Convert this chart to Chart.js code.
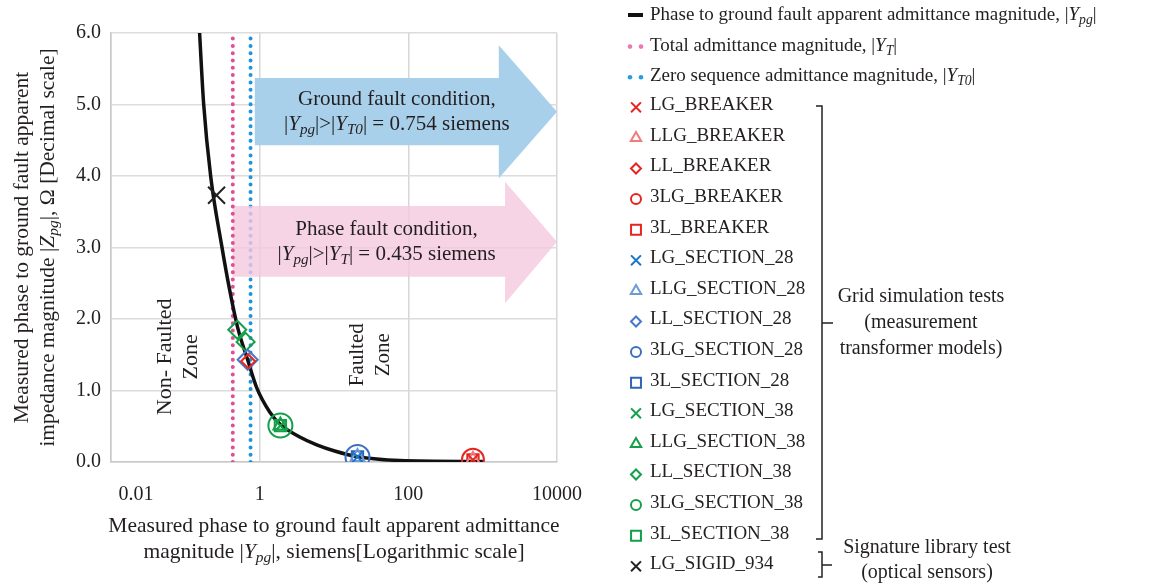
<!DOCTYPE html>
<html>
<head>
<meta charset="utf-8">
<script src="https://cdn.jsdelivr.net/npm/chart.js@4.4.1/dist/chart.umd.min.js"></script>
<style>
  html, body { margin: 0; padding: 0; background: #fff; }
  #wrap { width: 1171px; height: 588px; }
</style>
</head>
<body>
<div id="wrap"><canvas id="chart"></canvas></div>
<script>
// axis ticks
const xTicks = [0.01, 1, 100, 10000];
const yTicks = [0, 1, 2, 3, 4, 5, 6];

// |Ypg| (siemens) vs |Zpg| (ohm)
const curveY = [0.1555, 0.176, 0.219, 0.308, 0.394, 0.506, 0.689, 0.911, 1.364, 1.918, 3.46, 5.86, 10.2, 20.2, 76.8, 1008];
const curveZ = [6.0, 5.02, 4.0, 3.03, 2.41, 1.88, 1.43, 1.04, 0.70, 0.52, 0.35, 0.24, 0.154, 0.077, 0.021, 0.007];

// thresholds
const totalYT = 0.435;
const zeroYT0 = 0.754;

// test points
const testNames = ['LG_BREAKER', 'LLG_BREAKER', 'LL_BREAKER', '3LG_BREAKER', '3L_BREAKER',
  'LG_SECTION_28', 'LLG_SECTION_28', 'LL_SECTION_28', '3LG_SECTION_28', '3L_SECTION_28',
  'LG_SECTION_38', 'LLG_SECTION_38', 'LL_SECTION_38', '3LG_SECTION_38', '3L_SECTION_38',
  'LG_SIGID_934'];
const testAdmittance = [[740], [740], [0.70], [740], [740],
  [20.7], [20.7], [0.69], [20.7], [20.7],
  [1.9], [1.9], [0.50, 0.647], [1.9], [1.9],
  [0.263]];
const testImpedance = [[0.03], [0.03], [1.41], [0.03], [0.03],
  [0.07], [0.07], [1.43], [0.07], [0.07],
  [0.51], [0.51], [1.85, 1.68], [0.51], [0.51],
  [3.73]];

const testColors = ['#e52521', '#f07c7c', '#e52521', '#e52521', '#e52521',
  '#1b75c9', '#6d9bd6', '#4a78c8', '#3a70c0', '#2f65b5',
  '#13a048', '#13a048', '#13a048', '#13a048', '#13a048', '#222222'];
const chartRadius = [7, 8, 7, 11, 8, 7, 8, 10, 12, 8, 7, 8, 9, 12, 8, 12];
const legendRadius = { crossRot: 7, triangle: 6, rectRot: 5, circle: 5, rect: 7 };

const FONT = "'Liberation Serif', 'Times New Roman', serif";
const INK = '#231f20';

function styleFor(name) {
  if (name.startsWith('LLG')) return 'triangle';
  if (name.startsWith('LL')) return 'rectRot';
  if (name.startsWith('LG')) return 'crossRot';
  if (name.startsWith('3LG')) return 'circle';
  return 'rect';
}

// rich text: [text, ''|'i'|'s'] (s = italic subscript)
function segFont(st, size) {
  const s = st === 's' ? size * 0.72 : size;
  return (st ? 'italic ' : '') + s + 'px ' + FONT;
}
function drawRich(ctx, segs, x, y, size, align) {
  let w = 0;
  for (const [t, st] of segs) { ctx.font = segFont(st, size); w += ctx.measureText(t).width; }
  let cx = align === 'left' ? x : x - w / 2;
  ctx.textAlign = 'left';
  ctx.textBaseline = 'middle';
  for (const [t, st] of segs) {
    ctx.font = segFont(st, size);
    ctx.fillText(t, cx, st === 's' ? y + size * 0.28 : y);
    cx += ctx.measureText(t).width;
  }
}

const datasets = [
  {
    label: 'Phase to ground fault apparent admittance magnitude, |Ypg|',
    rich: [['Phase to ground fault apparent admittance magnitude, |', ''], ['Y', 'i'], ['pg', 's'], ['|', '']],
    kind: 'line',
    data: curveY.map((x, i) => ({ x: x, y: curveZ[i] })),
    showLine: true, borderColor: '#111', borderWidth: 3.5, pointRadius: 0,
    cubicInterpolationMode: 'monotone', order: 1
  },
  {
    label: 'Total admittance magnitude, |YT|',
    rich: [['Total admittance magnitude, |', ''], ['Y', 'i'], ['T', 's'], ['|', '']],
    kind: 'dots', dotColor: '#e879b3',
    data: [{ x: totalYT, y: yTicks[0] }, { x: totalYT, y: yTicks[yTicks.length - 1] }],
    showLine: true, borderColor: '#de4f98', borderWidth: 4, borderDash: [0, 7.3],
    borderCapStyle: 'round', pointRadius: 0, order: 2
  },
  {
    label: 'Zero sequence admittance magnitude, |YT0|',
    rich: [['Zero sequence admittance magnitude, |', ''], ['Y', 'i'], ['T0', 's'], ['|', '']],
    kind: 'dots', dotColor: '#2a9be0',
    data: [{ x: zeroYT0, y: yTicks[0] }, { x: zeroYT0, y: yTicks[yTicks.length - 1] }],
    showLine: true, borderColor: '#1c95dc', borderWidth: 4, borderDash: [0, 7.3],
    borderCapStyle: 'round', pointRadius: 0, order: 3
  }
].concat(testNames.map((name, i) => ({
  label: name,
  kind: 'point',
  data: testAdmittance[i].map((x, j) => ({ x: x, y: testImpedance[i][j] })),
  pointStyle: styleFor(name),
  pointRadius: chartRadius[i],
  pointBorderColor: testColors[i],
  pointBackgroundColor: 'rgba(0,0,0,0)',
  pointBorderWidth: 2,
  order: 0
})));

// annotation arrows, in data units
const groundArrow = { from: 0.86, neck: 1650, tip: 10000, body: [4.43, 5.37], head: [3.97, 5.83], mid: 4.9,
  fill: 'rgb(168,208,235)', textX: 70,
  lines: [[['Ground fault condition,', '']],
          [['|', ''], ['Y', 'i'], ['pg', 's'], ['|>|', ''], ['Y', 'i'], ['T0', 's'], ['| = 0.754 siemens', '']]] };
const phaseArrow = { from: totalYT, neck: 2000, tip: 10000, body: [2.59, 3.58], head: [2.22, 3.92], mid: 3.08,
  fill: 'rgba(245,200,224,0.8)', textX: 51,
  lines: [[['Phase fault condition,', '']],
          [['|', ''], ['Y', 'i'], ['pg', 's'], ['|>|', ''], ['Y', 'i'], ['T', 's'], ['| = 0.435 siemens', '']]] };

function drawArrow(chart, a) {
  const xs = chart.scales.x, ys = chart.scales.y, ctx = chart.ctx;
  const x0 = xs.getPixelForValue(a.from), x1 = xs.getPixelForValue(a.neck), x2 = xs.getPixelForValue(a.tip);
  const b0 = ys.getPixelForValue(a.body[1]), b1 = ys.getPixelForValue(a.body[0]);
  const h0 = ys.getPixelForValue(a.head[1]), h1 = ys.getPixelForValue(a.head[0]);
  const m = ys.getPixelForValue(a.mid);
  ctx.save();
  ctx.fillStyle = a.fill;
  ctx.beginPath();
  ctx.moveTo(x0, b0); ctx.lineTo(x1, b0); ctx.lineTo(x1, h0); ctx.lineTo(x2, m);
  ctx.lineTo(x1, h1); ctx.lineTo(x1, b1); ctx.lineTo(x0, b1);
  ctx.closePath();
  ctx.fill();
  ctx.fillStyle = INK;
  const tx = xs.getPixelForValue(a.textX);
  drawRich(ctx, a.lines[0], tx, m - 12.5, 21, 'center');
  drawRich(ctx, a.lines[1], tx, m + 12.5, 21, 'center');
  ctx.restore();
}

function drawVertical(ctx, lines, x, y, size) {
  ctx.save();
  ctx.translate(x, y);
  ctx.rotate(-Math.PI / 2);
  ctx.fillStyle = INK;
  lines.forEach((segs, i) => drawRich(ctx, segs, 0, (i - (lines.length - 1) / 2) * size * 1.2, size, 'center'));
  ctx.restore();
}

const overlay = {
  id: 'overlay',
  beforeDraw(chart) {
    // nudge the first x label inward, as in the original figure
    const items = chart.scales.x.getLabelItems();
    if (items.length && !items[0]._nudged) {
      items[0].options.translation[0] += 25;
      items[0]._nudged = true;
    }
  },
  beforeDatasetsDraw(chart) {
    drawArrow(chart, groundArrow);
  },
  afterDatasetDraw(chart, args) {
    if (args.index === 2) drawArrow(chart, phaseArrow);
  },
  afterDraw(chart) {
    const ctx = chart.ctx, xs = chart.scales.x, ys = chart.scales.y, area = chart.chartArea;
    ctx.save();
    ctx.fillStyle = INK;

    // zone labels
    drawVertical(ctx, [[['Non- Faulted', '']], [['Zone', '']]], xs.getPixelForValue(0.08), ys.getPixelForValue(1.47), 22);
    drawVertical(ctx, [[['Faulted', '']], [['Zone', '']]], xs.getPixelForValue(31), ys.getPixelForValue(1.5), 21);

    // axis titles
    const cxp = (area.left + area.right) / 2;
    drawRich(ctx, [['Measured phase to ground fault apparent admittance', '']], cxp, 526, 21.5, 'center');
    drawRich(ctx, [['magnitude |', ''], ['Y', 'i'], ['pg', 's'], ['|, siemens[Logarithmic scale]', '']], cxp, 552, 21.5, 'center');
    drawVertical(ctx, [[['Measured phase to ground fault apparent', '']],
      [['impedance magnitude |', ''], ['Z', 'i'], ['pg', 's'], ['|, \u03A9 [Decimal scale]', '']]],
      35, (area.top + area.bottom) / 2, 21.5);

    // legend
    const mx = 636, tx = 650, y0 = 15, dy = 30.6;
    chart.data.datasets.forEach((ds, i) => {
      const y = y0 + i * dy - (i > 2 ? 1.5 : 0);
      ctx.save();
      if (ds.kind === 'line') {
        ctx.strokeStyle = ds.borderColor; ctx.lineWidth = 4;
        ctx.beginPath(); ctx.moveTo(628, y); ctx.lineTo(643, y); ctx.stroke();
      } else if (ds.kind === 'dots') {
        ctx.fillStyle = ds.dotColor;
        [630, 641].forEach(px => { ctx.beginPath(); ctx.arc(px, y + 1, 2.3, 0, Math.PI * 2); ctx.fill(); });
      } else {
        ctx.strokeStyle = ds.pointBorderColor;
        ctx.fillStyle = 'rgba(0,0,0,0)';
        ctx.lineWidth = 2;
        Chart.helpers.drawPoint(ctx, { pointStyle: ds.pointStyle, radius: legendRadius[ds.pointStyle], rotation: 0, borderWidth: 2 }, mx, y + 2);
      }
      ctx.restore();
      ctx.fillStyle = INK;
      drawRich(ctx, ds.rich || [[ds.label, '']], tx, y, 19, 'left');
    });

    // brackets
    ctx.strokeStyle = '#222';
    ctx.lineWidth = 1.5;
    ctx.beginPath();
    ctx.moveTo(816, 106); ctx.lineTo(822, 106); ctx.lineTo(822, 539); ctx.lineTo(816, 539);
    ctx.moveTo(822, 323); ctx.lineTo(833, 323);
    ctx.moveTo(818, 552); ctx.lineTo(822, 552); ctx.lineTo(822, 577); ctx.lineTo(818, 577);
    ctx.moveTo(822, 565); ctx.lineTo(832, 565);
    ctx.stroke();
    drawRich(ctx, [['Grid simulation tests', '']], 921, 297, 20, 'center');
    drawRich(ctx, [['(measurement', '']], 921, 323, 20, 'center');
    drawRich(ctx, [['transformer models)', '']], 921, 349, 20, 'center');
    drawRich(ctx, [['Signature library test', '']], 927, 548, 20, 'center');
    drawRich(ctx, [['(optical sensors)', '']], 927, 573, 20, 'center');
    ctx.restore();
  }
};

new Chart(document.getElementById('chart'), {
  type: 'scatter',
  data: { datasets: datasets },
  plugins: [overlay],
  options: {
    responsive: true,
    maintainAspectRatio: false,
    animation: false,
    events: [],
    layout: { padding: { left: 0, right: 614, top: 33, bottom: 0 } },
    plugins: { legend: { display: false }, tooltip: { enabled: false } },
    scales: {
      x: {
        type: 'logarithmic',
        min: xTicks[0],
        max: xTicks[xTicks.length - 1],
        afterBuildTicks: s => { s.ticks = xTicks.map(v => ({ value: v })); },
        afterFit: s => { s.height = 126; },
        grid: { color: '#d6d6d6', lineWidth: 1.5, drawTicks: false },
        border: { color: '#c8c8c8', width: 1.5 },
        ticks: { padding: 21, color: INK, font: { family: FONT, size: 20 }, callback: v => String(v), autoSkip: false, maxRotation: 0 }
      },
      y: {
        min: yTicks[0],
        max: yTicks[yTicks.length - 1],
        afterBuildTicks: s => { s.ticks = yTicks.map(v => ({ value: v })); },
        afterFit: s => { s.width = 111; },
        grid: { color: '#dcdcdc', lineWidth: 1.5, drawTicks: false },
        border: { color: '#c8c8c8', width: 1.5 },
        ticks: { padding: 10, color: INK, font: { family: FONT, size: 20 }, callback: v => v.toFixed(1) }
      }
    }
  }
});
</script>
</body>
</html>
